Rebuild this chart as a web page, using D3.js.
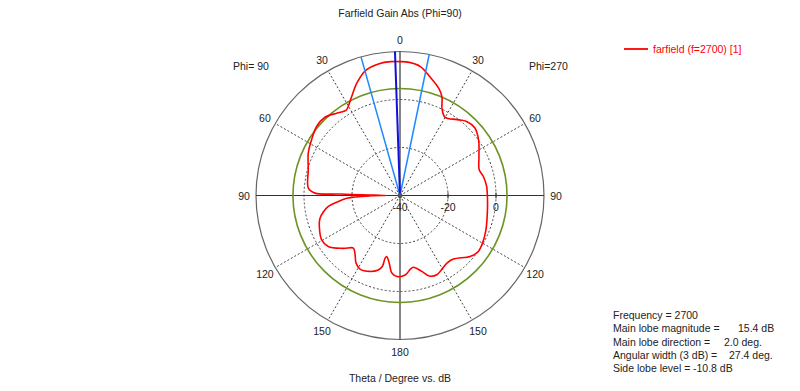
<!DOCTYPE html>
<html>
<head>
<meta charset="utf-8">
<script src="https://cdn.jsdelivr.net/npm/d3@7"></script>
<style>
  html, body { margin: 0; padding: 0; background: #fff; }
  svg text { font-family: "Liberation Sans", Arial, sans-serif; font-size: 10.5px; fill: #222; }
</style>
</head>
<body>
<svg id="chart" width="800" height="391"></svg>
<script>
// ---- Data (screen angle clockwise from top, degrees; gain in dB) ----
const angleDeg = [0, 4, 9, 14, 20, 23, 26, 30, 37, 42, 48, 55, 64, 72, 77, 84, 90, 99, 112, 120,
  126, 131, 140, 145, 151, 155, 160, 164, 169.5, 172, 176, 182, 186, 189, 192.3, 193.4, 194.0,
  196.3, 201.5, 208.5, 213, 218, 221.6, 227, 234.6, 240.5, 249, 254, 258, 261.3, 264, 267,
  269.5, 270.2, 271, 271.4, 271.6, 274.6, 285.7, 294.8, 302, 309.6, 316, 322.4, 327.6, 329.8,
  334, 339, 345, 351, 356];
const gainDb = [15.8, 15.6, 14.4, 11.1, 7.4, 4.7, 0.0, -2.4, -0.4, 1.5, 2.0, 0.0, -3.4, -5.3, -4.4,
  -3.7, -3.6, -3.1, -1.4, -0.3, 0.1, -1.3, -5.4, -5.7, -4.5, -3.6, -4.3, -7.1, -9.6, -9.0, -6.9,
  -6.2, -7.5, -11.4, -14.0, -13.2, -9.5, -7.7, -6.0, -5.1, -6.4, -9.5, -10.7, -7.7, -3.3, -2.5,
  -4.0, -5.3, -7.4, -9.8, -13.5, -17.8, -28, -34, -24, -15, -4.6, -1.7, -0.3, 2.1, 3.5, 5.1,
  5.2, 3.3, 2.0, 2.9, 5.9, 10.2, 14.2, 15.6, 15.9];

const radialTicks = [-40, -20, 0];
const gridCircles = [-20, 0];
const angleTicks = [0, 30, 60, 90, 120, 150, 180, 210, 240, 270, 300, 330];
const angleTickLabels = ["0", "30", "60", "90", "120", "150", "180", "150", "120", "90", "60", "30"];

const title = "Farfield Gain Abs (Phi=90)";
const axisTitle = "Theta / Degree vs. dB";
const legendLabel = "farfield (f=2700) [1]";
const mainLobeMagnitude = 15.4;
const mainLobeDirection = 2.0;   // toward Phi=90 side
const angularWidth = 27.4;
const sideLobeLevel = -10.8;
const infoLabels = ["Frequency = 2700", "Main lobe magnitude =", "Main lobe direction =",
  "Angular width (3 dB) =", "Side lobe level ="];
const infoValues = ["", "15.4 dB", "2.0 deg.", "27.4 deg.", "-10.8 dB"];

// ---- Layout ----
const cx = 400, cy = 195.5, R = 144;
const svg = d3.select("#chart");
const g = svg.append("g").attr("transform", `translate(${cx},${cy})`);
const r = d3.scaleLinear().domain([-40, 20]).range([0, R]);
const rad = d => d * Math.PI / 180;
const pt = (a, rr) => [rr * Math.sin(rad(a)), -rr * Math.cos(rad(a))];

// dashed spokes
g.selectAll("line.spoke").data(angleTicks.filter(a => a % 90 !== 0)).enter()
  .append("line")
  .attr("x1", 0).attr("y1", 0)
  .attr("x2", a => pt(a, R)[0]).attr("y2", a => pt(a, R)[1])
  .attr("stroke", "#444").attr("stroke-width", 1).attr("stroke-dasharray", "2,2");

// dashed circles
g.selectAll("circle.grid").data(gridCircles).enter()
  .append("circle").attr("r", d => r(d))
  .attr("fill", "none").attr("stroke", "#444").attr("stroke-width", 1).attr("stroke-dasharray", "2,2");

// outer circle
g.append("circle").attr("r", r(20)).attr("fill", "none").attr("stroke", "#666").attr("stroke-width", 1.2);

// solid axes
g.append("line").attr("x1", -R).attr("x2", R).attr("y1", 0).attr("y2", 0).attr("stroke", "#333").attr("stroke-width", 1.2);
g.append("line").attr("x1", 0).attr("x2", 0).attr("y1", -R).attr("y2", R).attr("stroke", "#333").attr("stroke-width", 1.2);

// radial ticks
g.selectAll("line.rtick").data(radialTicks.filter(d => d > -40)).enter()
  .append("line").attr("x1", d => r(d)).attr("x2", d => r(d)).attr("y1", -3).attr("y2", 3)
  .attr("stroke", "#333");
g.selectAll("text.rlab").data(radialTicks).enter()
  .append("text").attr("x", d => r(d)).attr("y", 15.5).attr("text-anchor", "middle")
  .attr("font-size", "11px").text(d => d);

// side lobe level circle
g.append("circle").attr("r", r(mainLobeMagnitude + sideLobeLevel))
  .attr("fill", "none").attr("stroke", "#6b9423").attr("stroke-width", 1.6);

// angle labels
g.selectAll("text.alab").data(angleTicks).enter()
  .append("text")
  .attr("x", a => pt(a, 156)[0]).attr("y", a => pt(a, 156)[1])
  .attr("text-anchor", "middle").attr("dominant-baseline", "central")
  .attr("font-size", "11px")
  .text((a, i) => angleTickLabels[i]);

// red curve
const pts = angleDeg.map((a, i) => ({ a, v: gainDb[i] }));
const line = d3.lineRadial().angle(d => rad(d.a)).radius(d => r(d.v))
  .curve(d3.curveCatmullRomClosed.alpha(0.5));
g.append("path").attr("d", line(pts)).attr("fill", "none").attr("stroke", "#ff0000").attr("stroke-width", 1.6);

// main lobe lines
const dir = -mainLobeDirection;
[dir - angularWidth / 2, dir + angularWidth / 2].forEach(a => {
  g.append("line").attr("x1", 0).attr("y1", 0)
    .attr("x2", pt(a, R)[0]).attr("y2", pt(a, R)[1])
    .attr("stroke", "#1e88ff").attr("stroke-width", 1.5);
});
g.append("line").attr("x1", 0).attr("y1", 0)
  .attr("x2", pt(dir, R)[0]).attr("y2", pt(dir, R)[1])
  .attr("stroke", "#1010dd").attr("stroke-width", 2);
g.append("circle").attr("r", 2.5).attr("fill", "#555");

// titles
svg.append("text").attr("x", 400).attr("y", 17).attr("text-anchor", "middle").attr("fill", "#333").text(title);
svg.append("text").attr("x", 400).attr("y", 382).attr("text-anchor", "middle").attr("fill", "#333").text(axisTitle);
svg.append("text").attr("x", 233).attr("y", 70).text("Phi= 90");
svg.append("text").attr("x", 529).attr("y", 70).text("Phi=270");

// legend
svg.append("line").attr("x1", 624).attr("x2", 648).attr("y1", 49).attr("y2", 49).attr("stroke", "#ff0000").attr("stroke-width", 1.8);
svg.append("text").attr("x", 653).attr("y", 52.5).style("fill", "#ff0000").text(legendLabel);

// info block
const valueX = [0, 738, 724, 729, 693];
infoLabels.forEach((t, i) => {
  const y = 319 + i * 13.3;
  svg.append("text").attr("x", 613).attr("y", y).text(t);
  if (infoValues[i]) svg.append("text").attr("x", valueX[i]).attr("y", y).text(infoValues[i]);
});
</script>
</body>
</html>
